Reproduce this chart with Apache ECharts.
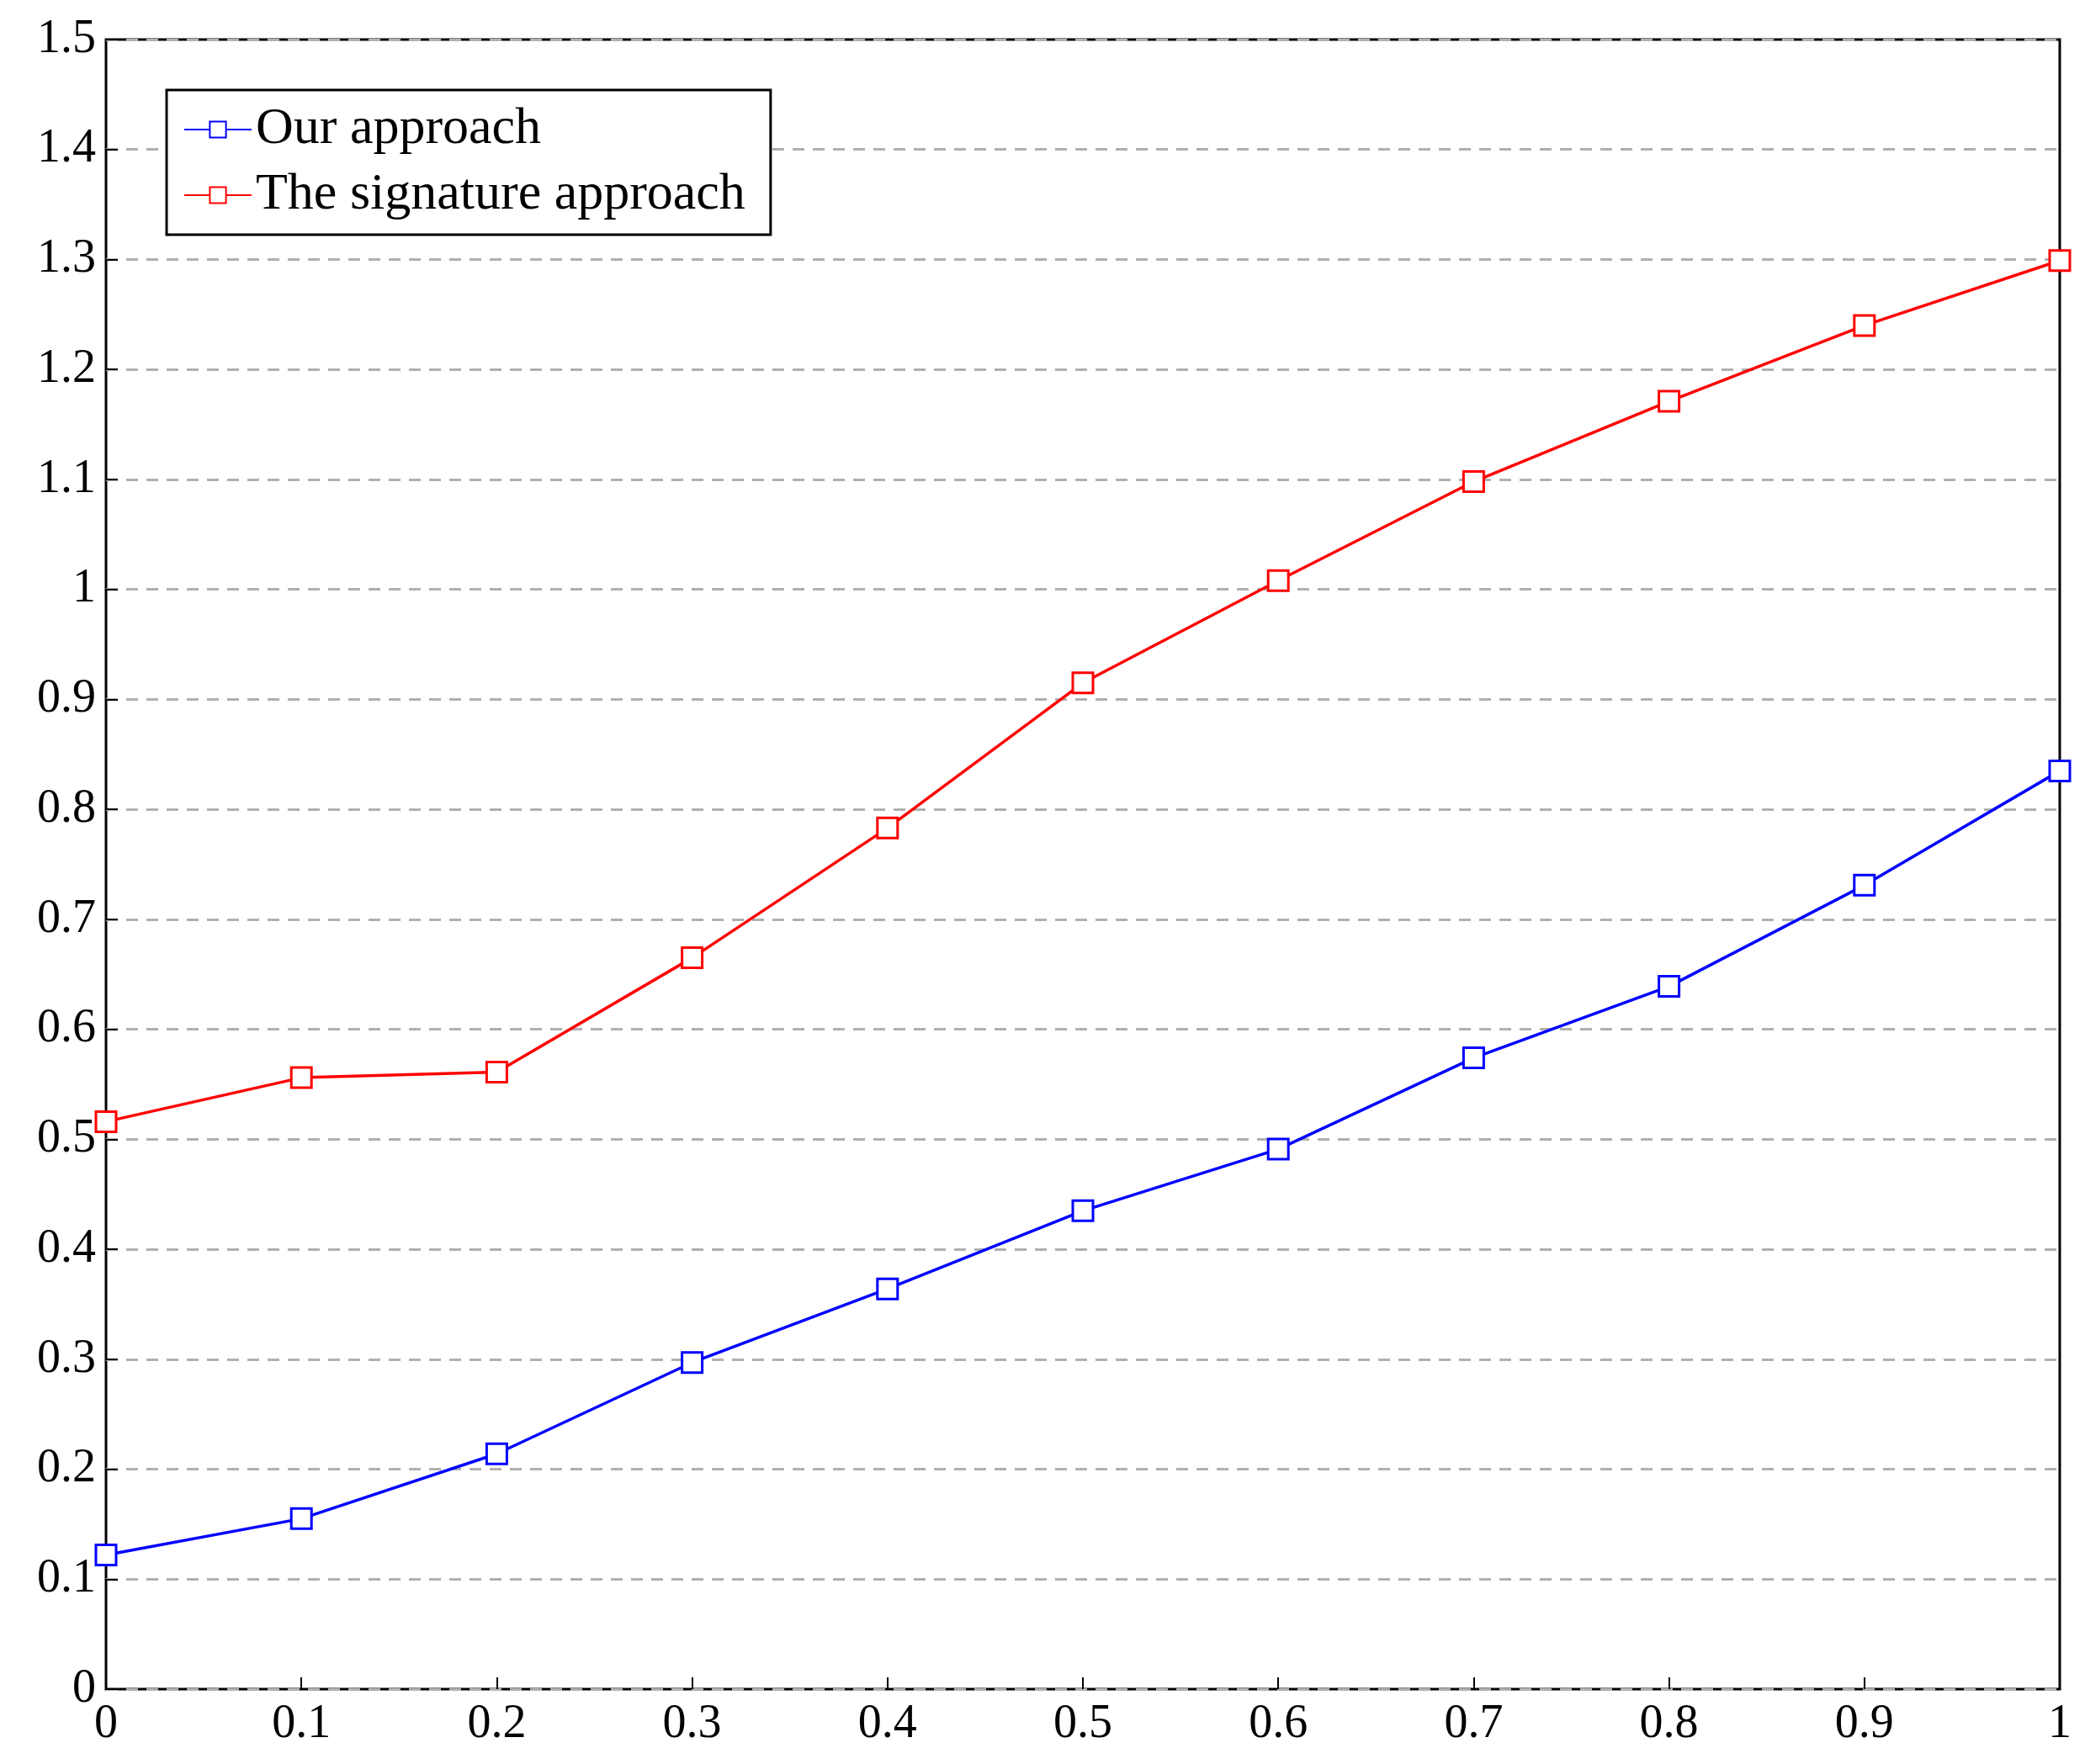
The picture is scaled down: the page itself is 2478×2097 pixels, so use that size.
<!DOCTYPE html>
<html><head><meta charset="utf-8">
<script src="https://cdn.jsdelivr.net/npm/echarts@6/dist/echarts.min.js"></script>
<style>html,body{margin:0;padding:0;background:#fff}#c{width:2478px;height:2097px}</style>
</head><body><div id="c"></div>
<script>
const xValues=[0,0.1,0.2,0.3,0.4,0.5,0.6,0.7,0.8,0.9,1];
const ourApproach=[0.122,0.155,0.214,0.297,0.364,0.435,0.491,0.574,0.639,0.731,0.835];
const signatureApproach=[0.516,0.556,0.561,0.665,0.783,0.915,1.008,1.098,1.171,1.240,1.299];
const seriesNames=['Our approach','The signature approach'];
const font='Liberation Serif';
const chart=echarts.init(document.getElementById('c'));
const mk=(name,vals,color)=>({name,type:'line',data:xValues.map((x,i)=>[x,vals[i]]),
 symbol:'rect',symbolSize:24,showSymbol:true,
 itemStyle:{color:'#fff',borderColor:color,borderWidth:3},
 lineStyle:{color,width:3.5},z:3});
chart.setOption({
 animation:false,
 grid:{left:126,right:30,top:47,bottom:89,show:true,borderColor:'#000',borderWidth:3},
 legend:{left:198,top:107,orient:'vertical',
  padding:[16,30,16,20],itemGap:16,
  borderColor:'#000',borderWidth:3,backgroundColor:'#fff',
  itemWidth:80,itemHeight:24,
  textStyle:{fontFamily:font,fontSize:62,color:'#000'},
  data:seriesNames},
 xAxis:{type:'value',min:0,max:1,interval:0.1,
  axisLine:{show:false},axisTick:{show:true,inside:true,length:14,lineStyle:{color:'#000',width:2}},
  splitLine:{show:false},
  axisLabel:{fontFamily:font,fontSize:56,color:'#000',margin:14,formatter:v=>String(+v.toFixed(1))}},
 yAxis:{type:'value',min:0,max:1.5,interval:0.1,
  axisLine:{show:false},axisTick:{show:true,inside:true,length:14,lineStyle:{color:'#000',width:2}},
  splitLine:{show:true,lineStyle:{color:'#b0b0b0',width:3,type:[14,10]}},
  axisLabel:{fontFamily:font,fontSize:56,color:'#000',margin:12,formatter:v=>String(+v.toFixed(1))}},
 series:[mk(seriesNames[0],ourApproach,'#00f'),mk(seriesNames[1],signatureApproach,'#f00')]
});
</script></body></html>
